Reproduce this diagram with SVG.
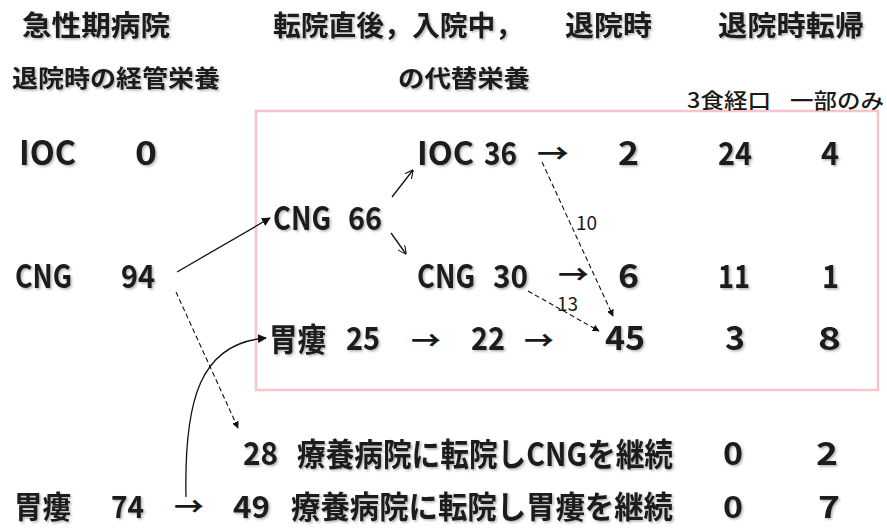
<svg xmlns="http://www.w3.org/2000/svg" width="887" height="528" viewBox="0 0 887 528">
<defs>
<filter id="sh" x="-10%" y="-20%" width="120%" height="150%">
<feDropShadow dx="1.5" dy="1.5" stdDeviation="0.8" flood-color="#000" flood-opacity="0.3"/>
</filter>
<marker id="af" viewBox="0 0 10 10" refX="9" refY="5" markerWidth="9" markerHeight="9" markerUnits="userSpaceOnUse" orient="auto">
<path d="M0,0 L10,5 L0,10 Z" fill="#111"/>
</marker>
<marker id="as" viewBox="0 0 10 10" refX="9" refY="5" markerWidth="7" markerHeight="7" markerUnits="userSpaceOnUse" orient="auto">
<path d="M0,0 L10,5 L0,10 Z" fill="#111"/>
</marker>
<marker id="ao" viewBox="0 0 10 10" refX="9.5" refY="5" markerWidth="9" markerHeight="9" markerUnits="userSpaceOnUse" orient="auto">
<path d="M0,0 L10,5 L0,10" fill="none" stroke="#111" stroke-width="1.2"/>
</marker>
</defs>
<style>
text{font-family:"Noto Sans CJK JP","Noto Sans",sans-serif;fill:#1a1a1a;}
.h{font-size:28px;font-weight:700;filter:url(#sh);}
.s{font-size:24px;font-weight:700;filter:url(#sh);}
.c{font-size:21px;font-weight:500;}
.n{font-size:32px;font-weight:600;filter:url(#sh);}
.m{font-size:31px;font-weight:600;filter:url(#sh);}
.b{font-size:33px;font-weight:700;filter:url(#sh);}
.a{font-size:26px;font-weight:700;}
.l{font-size:19px;font-weight:400;}
.ln{fill:none;stroke:#111;stroke-width:1.3;}
.d{fill:none;stroke:#111;stroke-width:1.1;stroke-dasharray:5 3;}
</style>
<rect x="256" y="111" width="622" height="279" fill="none" stroke="#f6c4c9" stroke-width="2.5"/>
<g id="headers">
<text class="h" x="22" y="36" textLength="148" lengthAdjust="spacingAndGlyphs">急性期病院</text>
<text class="s" x="12" y="87" textLength="208" lengthAdjust="spacingAndGlyphs">退院時の経管栄養</text>
<text class="h" x="273" y="36" textLength="250" lengthAdjust="spacingAndGlyphs">転院直後，入院中，</text>
<text class="s" x="398" y="87" textLength="132" lengthAdjust="spacingAndGlyphs">の代替栄養</text>
<text class="h" x="565" y="36" textLength="87" lengthAdjust="spacingAndGlyphs">退院時</text>
<text class="h" x="718" y="36" textLength="146" lengthAdjust="spacingAndGlyphs">退院時転帰</text>
<text class="c" x="687" y="108" textLength="84" lengthAdjust="spacingAndGlyphs">3食経口</text>
<text class="c" x="790" y="108" textLength="94" lengthAdjust="spacingAndGlyphs">一部のみ</text>
</g>
<g id="n-ioc0">
<text class="b" x="19" y="165" textLength="57" lengthAdjust="spacingAndGlyphs">IOC</text>
<text class="b" x="135" y="165" textLength="22" lengthAdjust="spacingAndGlyphs">0</text>
</g>
<g id="n-cng94">
<text class="n" x="15" y="288" textLength="57" lengthAdjust="spacingAndGlyphs">CNG</text>
<text class="n" x="121" y="288" textLength="34" lengthAdjust="spacingAndGlyphs">94</text>
</g>
<g id="n-ir74">
<text class="m" x="14" y="518" textLength="57" lengthAdjust="spacingAndGlyphs">胃瘻</text>
<text class="m" x="111" y="518" textLength="33" lengthAdjust="spacingAndGlyphs">74</text>
<text class="a" x="174" y="516" textLength="30" lengthAdjust="spacingAndGlyphs">→</text>
</g>
<g id="n-cng66">
<text class="n" x="273" y="230" textLength="58" lengthAdjust="spacingAndGlyphs">CNG</text>
<text class="n" x="348" y="230" textLength="34" lengthAdjust="spacingAndGlyphs">66</text>
</g>
<g id="n-ioc36">
<text class="n" x="417" y="165" textLength="57" lengthAdjust="spacingAndGlyphs">IOC</text>
<text class="n" x="484" y="165" textLength="33" lengthAdjust="spacingAndGlyphs">36</text>
<text class="a" x="537" y="163" textLength="32" lengthAdjust="spacingAndGlyphs">→</text>
<text class="b" x="618" y="165" textLength="21" lengthAdjust="spacingAndGlyphs">2</text>
<text class="n" x="718" y="165" textLength="34" lengthAdjust="spacingAndGlyphs">24</text>
<text class="n" x="821" y="165" textLength="18" lengthAdjust="spacingAndGlyphs">4</text>
</g>
<g id="n-cng30">
<text class="n" x="417" y="288" textLength="58" lengthAdjust="spacingAndGlyphs">CNG</text>
<text class="n" x="493" y="288" textLength="35" lengthAdjust="spacingAndGlyphs">30</text>
<text class="a" x="558" y="284" textLength="31" lengthAdjust="spacingAndGlyphs">→</text>
<text class="b" x="618" y="288" textLength="21" lengthAdjust="spacingAndGlyphs">6</text>
<text class="n" x="718" y="288" textLength="32" lengthAdjust="spacingAndGlyphs">11</text>
<text class="n" x="822" y="288" textLength="17" lengthAdjust="spacingAndGlyphs">1</text>
</g>
<g id="n-ir25">
<text class="n" x="269" y="351" textLength="57" lengthAdjust="spacingAndGlyphs">胃瘻</text>
<text class="n" x="346" y="350" textLength="34" lengthAdjust="spacingAndGlyphs">25</text>
<text class="a" x="411" y="350" textLength="30" lengthAdjust="spacingAndGlyphs">→</text>
<text class="n" x="471" y="350" textLength="34" lengthAdjust="spacingAndGlyphs">22</text>
<text class="a" x="524" y="350" textLength="30" lengthAdjust="spacingAndGlyphs">→</text>
<text class="b" x="605" y="350" textLength="40" lengthAdjust="spacingAndGlyphs">45</text>
<text class="b" x="725" y="350" textLength="20" lengthAdjust="spacingAndGlyphs">3</text>
<text class="n" x="818" y="350" textLength="23" lengthAdjust="spacingAndGlyphs">8</text>
</g>
<g id="n-28">
<text class="n" x="243" y="465" textLength="35" lengthAdjust="spacingAndGlyphs">28</text>
<text class="n" x="297" y="466" textLength="376" lengthAdjust="spacingAndGlyphs">療養病院に転院しCNGを継続</text>
<text class="n" x="723" y="465" textLength="20" lengthAdjust="spacingAndGlyphs">0</text>
<text class="n" x="816" y="465" textLength="22" lengthAdjust="spacingAndGlyphs">2</text>
</g>
<g id="n-49">
<text class="m" x="233" y="518" textLength="37" lengthAdjust="spacingAndGlyphs">49</text>
<text class="m" x="291" y="518" textLength="382" lengthAdjust="spacingAndGlyphs">療養病院に転院し胃瘻を継続</text>
<text class="m" x="723" y="518" textLength="20" lengthAdjust="spacingAndGlyphs">0</text>
<text class="m" x="818" y="518" textLength="22" lengthAdjust="spacingAndGlyphs">7</text>
</g>
<g id="connectors">
<line class="ln" x1="177" y1="272" x2="270" y2="218" marker-end="url(#af)"/>
<line class="ln" x1="392" y1="197" x2="413" y2="170" marker-end="url(#ao)"/>
<line class="ln" x1="391" y1="233" x2="406" y2="254" marker-end="url(#ao)"/>
<path class="ln" d="M186,497 C184,400 200,343 266,338" marker-end="url(#af)"/>
<line class="d" x1="176" y1="292" x2="238" y2="428" marker-end="url(#as)"/>
<line class="d" x1="542" y1="162" x2="613" y2="316" marker-end="url(#as)"/>
<line class="d" x1="528" y1="291" x2="599" y2="331" marker-end="url(#as)"/>
<text class="l" x="576" y="230">10</text>
<text class="l" x="557" y="311">13</text>
</g>
</svg>
